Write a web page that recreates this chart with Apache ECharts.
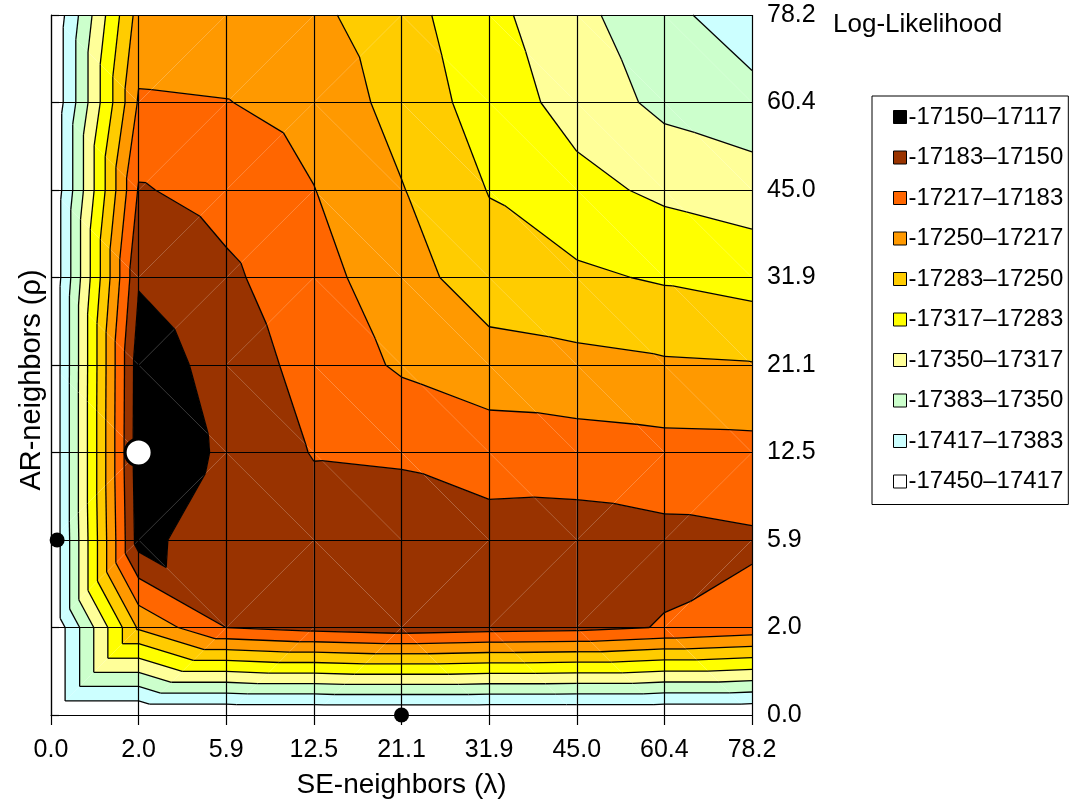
<!DOCTYPE html>
<html><head><meta charset="utf-8">
<script src="https://cdn.jsdelivr.net/npm/echarts@6/dist/echarts.min.js"></script>
<style>html,body{margin:0;padding:0;background:#fff}#chart{width:1073px;height:803px}</style>
</head><body><div id="chart"></div>
<script>
// Axis tick labels (grid nodes)
const seLabels = ['0.0','2.0','5.9','12.5','21.1','31.9','45.0','60.4','78.2'];
const arLabels = ['0.0','2.0','5.9','12.5','21.1','31.9','45.0','60.4','78.2'];

// Log-likelihood at each grid node, one array per AR-neighbors (rho) row,
// values across SE-neighbors (lambda) 0.0 ... 78.2
const llRho0_0  = [-17450,-17450,-17450,-17450,-17450,-17450,-17450,-17450,-17450];
const llRho2_0  = [-17450,-17245,-17182.7,-17171.7,-17164.3,-17170,-17173.3,-17185,-17195.3];
const llRho5_9  = [-17450,-17135,-17180,-17165,-17163.3,-17168.3,-17166.7,-17173.3,-17178.3];
const llRho12_5 = [-17450,-17130,-17154.7,-17185,-17187.7,-17200,-17202,-17205.7,-17206.7];
const llRho21_1 = [-17450,-17131.7,-17163.3,-17195.7,-17221.7,-17235,-17240.7,-17246,-17248.3];
const llRho31_9 = [-17450,-17153.3,-17176.3,-17206,-17235,-17269.3,-17277,-17286.7,-17296];
const llRho45_0 = [-17450,-17180,-17195.7,-17216.3,-17248.3,-17284.3,-17306.7,-17324,-17334];
const llRho60_4 = [-17450,-17213.3,-17216,-17228.3,-17261.7,-17298.3,-17330,-17358.3,-17370.7];
const llRho78_2 = [-17450,-17236.7,-17238.3,-17242.7,-17270,-17307.7,-17341.3,-17372.7,-17404.3];

// Contour bands (legend order, top to bottom)
const bandNames = ['-17150–17117','-17183–17150','-17217–17183','-17250–17217','-17283–17250',
                   '-17317–17283','-17350–17317','-17383–17350','-17417–17383','-17450–17417'];
const bandLow  = [-17150,-17183,-17217,-17250,-17283,-17317,-17350,-17383,-17417,-17450];
const bandHigh = [-17117,-17150,-17183,-17217,-17250,-17283,-17317,-17350,-17383,-17417];
const contourLevels = [-17150,-17183,-17217,-17250,-17283,-17317,-17350,-17383,-17417];

// Marked points (grid index positions along SE / AR axes)
const peakPoint = [[1, 3]];
const axisPoints = [[0.07, 2], [4, 0]];

const bandColors = ['#000000','#993300','#FF6600','#FF9900','#FFCC00','#FFFF00','#FFFF99','#CCFFCC','#CCFFFF','#FFFFFF'];
const FONT = '"Liberation Sans", Arial, sans-serif';

const llRows = [llRho0_0, llRho2_0, llRho5_9, llRho12_5, llRho21_1, llRho31_9, llRho45_0, llRho60_4, llRho78_2];
const nX = seLabels.length, nY = arLabels.length;
const cells = [];
for (let j = 0; j < nY - 1; j++) for (let i = 0; i < nX - 1; i++) cells.push([i, j]);

function val(i, j) { return llRows[j][i]; }
function cellTris(i, j) {
  const BL = {x:i, y:j, z:val(i,j)}, BR = {x:i+1, y:j, z:val(i+1,j)};
  const TL = {x:i, y:j+1, z:val(i,j+1)}, TR = {x:i+1, y:j+1, z:val(i+1,j+1)};
  if (BL.z + TR.z >= TL.z + BR.z) return [[BL,BR,TR],[BL,TR,TL]];
  return [[BL,BR,TL],[BR,TR,TL]];
}
function clipPoly(poly, level, keepAbove) {
  const out = [], n = poly.length;
  for (let k = 0; k < n; k++) {
    const a = poly[k], b = poly[(k+1)%n];
    const ina = keepAbove ? a.z >= level : a.z <= level;
    const inb = keepAbove ? b.z >= level : b.z <= level;
    if (ina) out.push(a);
    if (ina !== inb) {
      const t = (level - a.z) / (b.z - a.z);
      out.push({x:a.x + t*(b.x-a.x), y:a.y + t*(b.y-a.y), z:level});
    }
  }
  return out;
}

const series = [];
bandNames.forEach((name, k) => {
  series.push({
    type: 'custom', name: name, data: cells, z: 1, silent: true,
    itemStyle: {color: bandColors[k]},
    renderItem: function (params, api) {
      const i = api.value(0), j = api.value(1);
      const children = [];
      cellTris(i, j).forEach(tri => {
        let p = clipPoly(tri, bandLow[k], true);
        if (p.length >= 3) p = clipPoly(p, bandHigh[k], false);
        if (p.length >= 3) {
          children.push({type:'polygon', shape:{points:p.map(q => api.coord([q.x, q.y]))},
                         style:{fill: bandColors[k]}});
        }
      });
      return {type:'group', children};
    }
  });
});
series.push({
  type: 'custom', name: 'contours', data: cells, z: 3, silent: true,
  renderItem: function (params, api) {
    const i = api.value(0), j = api.value(1);
    const children = [];
    cellTris(i, j).forEach(tri => {
      contourLevels.forEach(L => {
        const pts = [];
        for (let k = 0; k < 3; k++) {
          const a = tri[k], b = tri[(k+1)%3];
          let sa = a.z - L, sb = b.z - L;
          if (sa === 0) sa = 1e-9; if (sb === 0) sb = 1e-9;
          if (sa * sb < 0) {
            const t = sa / (sa - sb);
            pts.push(api.coord([a.x + t*(b.x-a.x), a.y + t*(b.y-a.y)]));
          }
        }
        if (pts.length === 2) {
          children.push({type:'line', shape:{x1:pts[0][0], y1:pts[0][1], x2:pts[1][0], y2:pts[1][1]},
                         style:{stroke:'#000', lineWidth:1.3}});
        }
      });
    });
    return {type:'group', children};
  }
});
series.push({
  type: 'scatter', name: 'axisPoints', data: axisPoints, z: 6, symbol: 'circle', symbolSize: 15,
  itemStyle: {color: '#000', opacity: 1}, silent: true
});
series.push({
  type: 'scatter', name: 'peak', data: peakPoint, z: 6, symbol: 'circle', symbolSize: 27,
  itemStyle: {color: '#fff', borderColor: '#000', borderWidth: 3, opacity: 1}, silent: true
});

const chart = echarts.init(document.getElementById('chart'), null, {renderer: 'canvas'});
chart.setOption({
  animation: false,
  backgroundColor: '#fff',
  title: {text: 'Log-Likelihood', left: 833, top: 12, padding: 0,
          textStyle: {fontSize: 26, fontWeight: 'normal', color: '#000', fontFamily: FONT}},
  grid: {left: 51, top: 15, width: 701, height: 700, containLabel: false, outerBoundsMode: 'none'},
  xAxis: {
    type: 'value', min: 0, max: nX - 1, interval: 1, position: 'bottom', z: 4,
    axisLine: {show: true, lineStyle: {color: '#000', width: 1.2}},
    axisTick: {show: true, length: 10, lineStyle: {color: '#000', width: 1.2}},
    axisLabel: {formatter: v => seLabels[v], fontSize: 25, color: '#000', fontFamily: FONT, margin: 23},
    splitLine: {show: true, lineStyle: {color: '#000', width: 1.2}},
    name: 'SE-neighbors (λ)', nameLocation: 'middle', nameGap: 56,
    nameTextStyle: {fontSize: 28, color: '#000', fontFamily: FONT}
  },
  yAxis: {
    type: 'value', min: 0, max: nY - 1, interval: 1, position: 'right', z: 4,
    axisLine: {show: true, lineStyle: {color: '#000', width: 1.2}},
    axisTick: {show: true, length: 8, lineStyle: {color: '#000', width: 1.2}},
    axisLabel: {formatter: v => arLabels[v], fontSize: 25, color: '#000', fontFamily: FONT, margin: 15},
    splitLine: {show: true, lineStyle: {color: '#000', width: 1.2}}
  },
  legend: {
    orient: 'vertical', left: 872, top: 96, padding: [9, 5, 11, 21],
    itemWidth: 13, itemHeight: 13, itemGap: 16.5, icon: 'rect', selectedMode: false,
    borderColor: '#000', borderWidth: 1, backgroundColor: '#fff',
    itemStyle: {borderColor: '#000', borderWidth: 1},
    textStyle: {fontSize: 24, lineHeight: 24, color: '#000', fontFamily: FONT, padding: [0,0,0,-3]},
    data: bandNames
  },
  graphic: [{
    type: 'text', x: 32, y: 380, rotation: Math.PI / 2, z: 10,
    style: {text: 'AR-neighbors (ρ)', align: 'center', verticalAlign: 'middle',
            fontSize: 29, fontFamily: FONT, fill: '#000'}
  }],
  series: series
});
</script></body></html>
